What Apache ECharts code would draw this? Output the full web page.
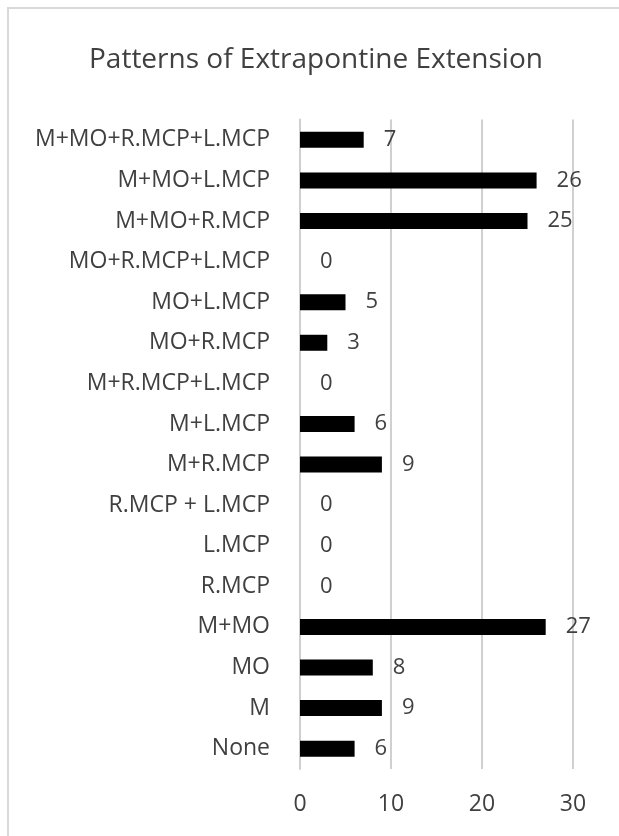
<!DOCTYPE html>
<html><head><meta charset="utf-8">
<script src="https://cdn.jsdelivr.net/npm/echarts@6/dist/echarts.min.js"></script>
<style>html,body{margin:0;padding:0;background:#fff}#c{width:619px;height:836px}</style>
</head><body><div id="c"></div>
<script>
const title = 'Patterns of Extrapontine Extension';
const categories = ['None','M','MO','M+MO','R.MCP','L.MCP','R.MCP + L.MCP','M+R.MCP','M+L.MCP','M+R.MCP+L.MCP','MO+R.MCP','MO+L.MCP','MO+R.MCP+L.MCP','M+MO+R.MCP','M+MO+L.MCP','M+MO+R.MCP+L.MCP'];
const values = [6,9,8,27,0,0,0,9,6,0,3,5,0,25,26,7];
const xTicks = [0,10,20,30];

const chart = echarts.init(document.getElementById('c'));
const font = 'Open Sans';
const textColor = '#404040';
chart.setOption({
  animation: false,
  backgroundColor: '#fff',
  graphic: [{
    type: 'rect', shape: {x: 8, y: 8, width: 800, height: 1000},
    style: {fill: 'none', stroke: '#d9d9d9', lineWidth: 2}, silent: true
  }],
  title: {
    text: title, left: 84, top: 41,
    textStyle: {fontFamily: font, fontSize: 28, fontWeight: 'normal', color: textColor}
  },
  grid: {left: 300, right: 46, top: 119.5, bottom: 67, containLabel: false},
  xAxis: {
    type: 'value', min: xTicks[0], max: xTicks[xTicks.length - 1], interval: 10,
    axisLine: {show: false}, axisTick: {show: false},
    axisLabel: {fontFamily: font, fontSize: 23, color: textColor, margin: 24},
    splitLine: {show: true, lineStyle: {color: '#d0d0d0', width: 2}}
  },
  yAxis: {
    type: 'category', data: categories,
    axisLine: {show: true, lineStyle: {color: '#d0d0d0', width: 2}},
    axisTick: {show: false},
    axisLabel: {fontFamily: font, fontSize: 23, color: textColor, margin: 30}
  },
  series: [{
    type: 'bar', data: values, barWidth: 16,
    itemStyle: {color: '#000'},
    label: {show: true, position: 'right', distance: 20, fontFamily: font, fontSize: 22, color: textColor}
  }]
});
</script></body></html>
